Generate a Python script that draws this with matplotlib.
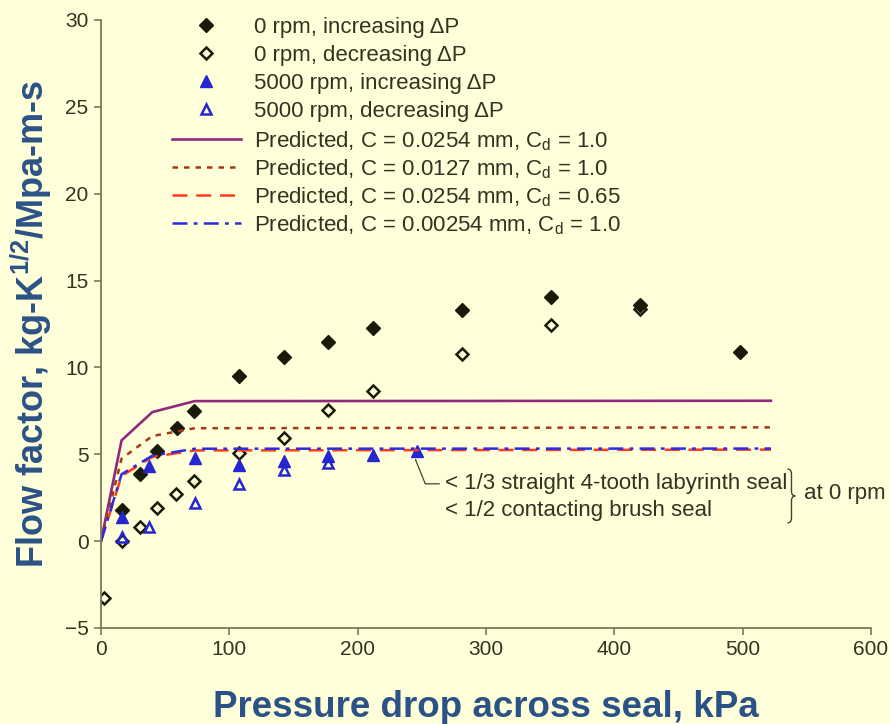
import matplotlib
matplotlib.use('Agg')
import matplotlib.pyplot as plt
from matplotlib.path import Path
from matplotlib.patches import PathPatch

plt.rcParams['font.family'] = ['Liberation Sans', 'DejaVu Sans']
plt.rcParams['mathtext.fontset'] = 'custom'
plt.rcParams['mathtext.rm'] = 'Liberation Sans'
plt.rcParams['mathtext.it'] = 'Liberation Sans:italic'
plt.rcParams['mathtext.bf'] = 'Liberation Sans:bold'

# measured flow factor, 0 rpm
x0_inc = [16, 30, 44, 59, 72.5, 107.5, 142.5, 177, 212, 281, 350.5, 420, 498]
y0_inc = [1.8, 3.85, 5.2, 6.5, 7.5, 9.5, 10.6, 11.45, 12.25, 13.3, 14.05, 13.6, 10.9]
x0_dec = [2.3, 16, 30, 44, 58.5, 72.5, 107.5, 142.5, 177, 212, 281, 350.5, 420]
y0_dec = [-3.25, 0.0, 0.8, 1.9, 2.7, 3.45, 5.05, 5.95, 7.55, 8.65, 10.75, 12.45, 13.35]
# measured flow factor, 5000 rpm
x5_inc = [16, 37, 73, 107.5, 142.5, 177, 212, 246]
y5_inc = [1.4, 4.3, 4.8, 4.4, 4.6, 4.9, 4.95, 5.2]
x5_dec = [16, 37, 73, 107.5, 142.5, 177]
y5_dec = [0.25, 0.8, 2.2, 3.3, 4.1, 4.5]

# predictions
x_pred = [0, 16, 40, 73, 522]
p_c0254 = [0, 5.8, 7.43, 8.06, 8.08]
p_c0127 = [0, 4.75, 6.05, 6.5, 6.55]
p_c0254_cd065 = [0, 3.75, 4.85, 5.22, 5.27]
p_c00254 = [0, 3.85, 4.92, 5.32, 5.33]

bg = '#FFFFDA'
txt = '#333322'
lab = '#2A5286'
axc = '#7A7A5A'

fig = plt.figure(figsize=(8.9, 7.24), dpi=100, facecolor=bg)
ax = fig.add_axes([0.1135, 0.1326, 0.8652, 0.8398])
ax.set_facecolor(bg)

m1, = ax.plot(x0_inc, y0_inc, 'D', color='#1A1A0A', ms=7.5, ls='none', label='0 rpm, increasing \u0394P')
m2, = ax.plot(x0_dec, y0_dec, 'D', mfc='none', mec='#1A1A0A', mew=1.8, ms=6.0, ls='none', label='0 rpm, decreasing \u0394P')
m3, = ax.plot(x5_inc, y5_inc, '^', color='#2626D0', ms=8.5, ls='none', label='5000 rpm, increasing \u0394P')
m4, = ax.plot(x5_dec, y5_dec, '^', mfc='none', mec='#2626D0', mew=1.8, ms=7.5, ls='none', label='5000 rpm, decreasing \u0394P')
l1, = ax.plot(x_pred, p_c0254, '-', color='#8E2A7E', lw=1.9, label='Predicted, C = 0.0254 mm, C$_\\mathrm{d}$ = 1.0')
l2, = ax.plot(x_pred, p_c0127, color='#A33A12', lw=1.8, ls=(0, (2.2, 2.4)), label='Predicted, C = 0.0127 mm, C$_\\mathrm{d}$ = 1.0')
l3, = ax.plot(x_pred, p_c0254_cd065, color='#FF3B1E', lw=1.8, ls=(0, (6, 3.5)), label='Predicted, C = 0.0254 mm, C$_\\mathrm{d}$ = 0.65')
l4, = ax.plot(x_pred, p_c00254, color='#2B2BE0', lw=1.8, ls=(0, (6, 2.5, 1.5, 2.5)), label='Predicted, C = 0.00254 mm, C$_\\mathrm{d}$ = 1.0')

ax.set_xlim(0, 600)
ax.set_ylim(-5, 30)
ax.set_xticks(range(0, 601, 100))
ax.set_yticks(range(-5, 31, 5))
for s in ['top', 'right']:
    ax.spines[s].set_visible(False)
for s in ['left', 'bottom']:
    ax.spines[s].set_color(axc)
    ax.spines[s].set_linewidth(1.3)
ax.tick_params(direction='out', length=5, width=1.2, color=axc, labelsize=15, labelcolor=txt, pad=4)

ax.set_xlabel('Pressure drop across seal, kPa', fontsize=26.5, fontweight='bold', color=lab, labelpad=22)
ax.set_ylabel('Flow factor, kg-K$^{\\mathbf{1/2}}$/Mpa-m-s', fontsize=26, fontweight='bold', color=lab, labelpad=8)

leg_kw = dict(loc='upper left', bbox_transform=fig.transFigure, frameon=False, fontsize=16, numpoints=1,
              handlelength=3.1, handletextpad=0.6, borderpad=0, borderaxespad=0)
leg1 = ax.legend(handles=[m1, m2, m3, m4], bbox_to_anchor=(172 / 890, 1 - 17 / 724), labelspacing=0.31, **leg_kw)
ax.add_artist(leg1)
leg2 = ax.legend(handles=[l1, l2, l3, l4], bbox_to_anchor=(172 / 890, 1 - 129 / 724), labelspacing=0.2, **leg_kw)
for lg in (leg1, leg2):
    for t in lg.get_texts():
        t.set_color(txt)

# callout for the last 5000 rpm point
ax.annotate('< 1/3 straight 4-tooth labyrinth seal', xy=(x5_inc[-1] - 1, y5_inc[-1] - 0.5), xytext=(268, 3.3),
            fontsize=16, color=txt, va='center', ha='left',
            arrowprops=dict(arrowstyle='-', color='#444433', lw=0.9, shrinkA=2, shrinkB=0,
                            connectionstyle='angle,angleA=180,angleB=112,rad=0'))
ax.text(268, 1.75, '< 1/2 contacting brush seal', fontsize=16, color=txt, va='center', ha='left')

# curly brace
bx, btop, bbot, bw, r = 535, 4.15, 1.05, 6, 0.3
bmid = (btop + bbot) / 2
xm = bx + bw / 2
verts = [(bx, btop), (xm, btop), (xm, btop - r), (xm, bmid + r), (xm, bmid), (bx + bw, bmid),
         (xm, bmid), (xm, bmid - r), (xm, bbot + r), (xm, bbot), (bx, bbot)]
codes = [Path.MOVETO, Path.CURVE3, Path.CURVE3, Path.LINETO, Path.CURVE3, Path.CURVE3,
         Path.CURVE3, Path.CURVE3, Path.LINETO, Path.CURVE3, Path.CURVE3]
ax.add_patch(PathPatch(Path(verts, codes), fc='none', ec='#444433', lw=1.0, clip_on=False))
ax.text(548, 2.75, 'at 0 rpm', fontsize=16, color=txt, va='center', ha='left', clip_on=False)

fig.savefig('out.png', dpi=100, facecolor=bg)
